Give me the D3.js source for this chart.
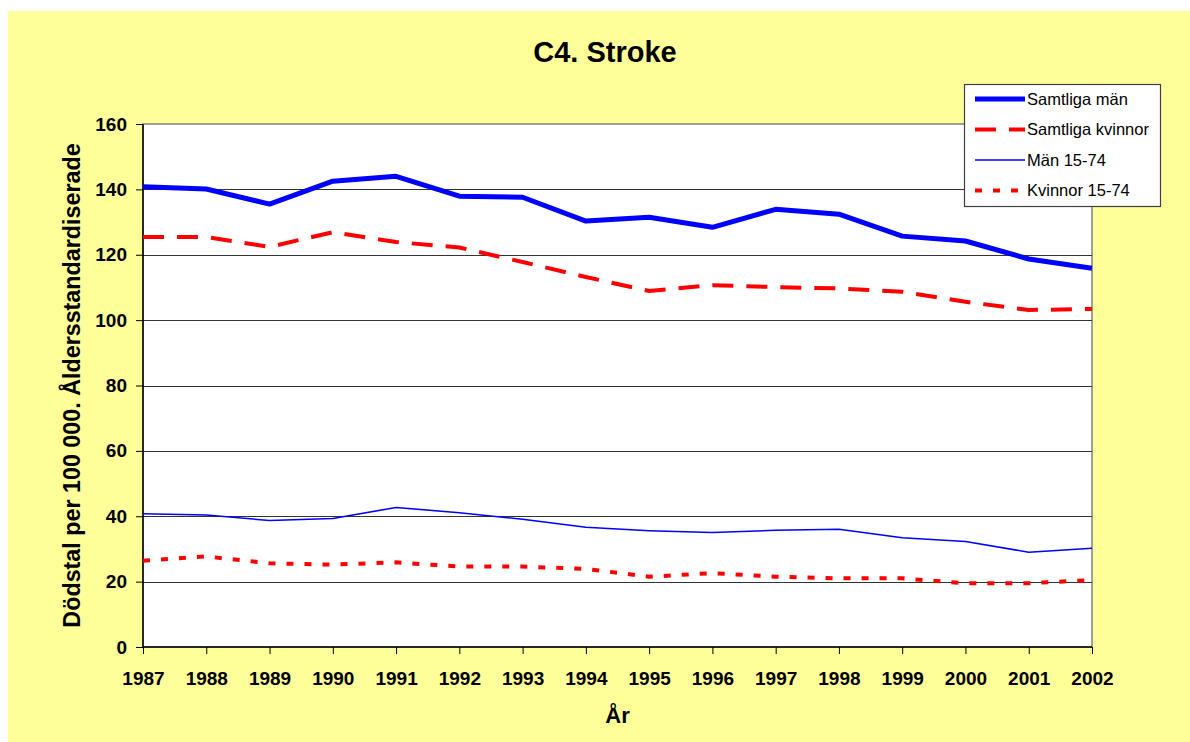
<!DOCTYPE html>
<html>
<head>
<meta charset="utf-8">
<script src="https://cdn.jsdelivr.net/npm/d3@7"></script>
<style>
	body { margin: 0; background: #fff; }
	text { font-family: "Liberation Sans", Arial, sans-serif; }
	.tick text { font-weight: bold; font-size: 19px; fill: #000; }
</style>
</head>
<body>
<svg></svg>
<script>
var years = [1987, 1988, 1989, 1990, 1991, 1992, 1993, 1994, 1995, 1996, 1997, 1998, 1999, 2000, 2001, 2002];
var samtligaMan = [140.8, 140.1, 135.5, 142.5, 144.0, 137.9, 137.6, 130.3, 131.5, 128.4, 133.9, 132.4, 125.7, 124.2, 118.7, 115.9];
var samtligaKvinnor = [125.4, 125.4, 122.4, 126.9, 123.9, 122.2, 117.8, 113.2, 108.9, 110.7, 110.1, 109.7, 108.7, 105.6, 103.1, 103.4];
var man1574 = [40.8, 40.4, 38.7, 39.3, 42.7, 41.1, 39.1, 36.6, 35.6, 35.0, 35.7, 36.0, 33.4, 32.3, 29.0, 30.2];
var kvinnor1574 = [26.4, 27.7, 25.6, 25.2, 25.9, 24.6, 24.6, 23.9, 21.5, 22.6, 21.5, 21.0, 21.0, 19.5, 19.5, 20.5];
var seriesNames = ["Samtliga män", "Samtliga kvinnor", "Män 15-74", "Kvinnor 15-74"];
var yTicks = [0, 20, 40, 60, 80, 100, 120, 140, 160];

var svgWidth = 1190, svgHeight = 742;
var plotLeft = 143, plotRight = 1092, plotTop = 124, plotBottom = 647;

var seriesStyle = [
	{ data: samtligaMan, color: "#0000ff", width: 5, dash: null },
	{ data: samtligaKvinnor, color: "#ff0000", width: 4, dash: "21,13" },
	{ data: man1574, color: "#0000ff", width: 1.5, dash: null },
	{ data: kvinnor1574, color: "#ff0000", width: 4, dash: "7,11" }
];

var svg = d3.select("svg")
			.attr("width", svgWidth)
			.attr("height", svgHeight);

var xScale = d3.scalePoint()
			.domain(years)
			.range([plotLeft, plotRight]);

var yScale = d3.scaleLinear()
			.domain([0, 160])
			.range([plotBottom, plotTop]);

setBackground(svg);
setGrid(svg);
setAxis(svg);
setLines(svg);
setLegend(svg);
setTitles(svg);

// This function draws the yellow chart area and the white plot area
function setBackground(svg) {
	svg.append("rect")
		.attr("x", 8)
		.attr("y", 11)
		.attr("width", svgWidth - 8)
		.attr("height", svgHeight - 11)
		.attr("fill", "#ffff99");

	svg.append("rect")
		.attr("x", plotLeft)
		.attr("y", plotTop)
		.attr("width", plotRight - plotLeft)
		.attr("height", plotBottom - plotTop)
		.attr("fill", "#fff")
		.attr("stroke", "#808080")
		.attr("stroke-width", 1.5);
}

// This function draws the horizontal gridlines
function setGrid(svg) {
	svg.append("g")
		.selectAll("line")
		.data(yTicks.filter(function(d) { return d > 0 && d < 160; }))
		.enter()
		.append("line")
		.attr("x1", plotLeft)
		.attr("x2", plotRight)
		.attr("y1", function(d) { return Math.round(yScale(d)) + 0.5; })
		.attr("y2", function(d) { return Math.round(yScale(d)) + 0.5; })
		.attr("stroke", "#333")
		.attr("stroke-width", 1);
}

// This function sets the coordinate axes
function setAxis(svg) {
	var y_axis = d3.axisLeft(yScale)
				.tickValues(yTicks)
				.tickSize(7)
				.tickPadding(9);

	var x_axis = d3.axisBottom(xScale)
				.tickSize(7)
				.tickPadding(18);

	var gy = svg.append("g")
		.attr("transform", "translate(" + plotLeft + ",0)")
		.call(y_axis);

	var gx = svg.append("g")
		.attr("transform", "translate(0," + plotBottom + ")")
		.call(x_axis);

	gy.attr("font-family", null).attr("font-size", null);
	gx.attr("font-family", null).attr("font-size", null);
	svg.selectAll(".domain").attr("stroke", "#000").attr("stroke-width", 1.5);
	svg.selectAll(".tick line").attr("stroke", "#000");
	gy.select(".domain").attr("d", "M0," + plotBottom + "V" + plotTop);
	gx.select(".domain").attr("d", "M" + plotLeft + ",0H" + plotRight);
}

// This function draws the four series
function setLines(svg) {
	var line = d3.line()
		.x(function(d, i) { return xScale(years[i]); })
		.y(function(d) { return yScale(d); });

	svg.append("g")
		.selectAll("path")
		.data(seriesStyle)
		.enter()
		.append("path")
		.attr("d", function(s) { return line(s.data); })
		.attr("fill", "none")
		.attr("stroke", function(s) { return s.color; })
		.attr("stroke-width", function(s) { return s.width; })
		.attr("stroke-dasharray", function(s) { return s.dash; })
		.attr("stroke-linejoin", "round");
}

// This function draws the legend box
function setLegend(svg) {
	var legend = svg.append("g")
		.attr("transform", "translate(964,84)");

	legend.append("rect")
		.attr("x", 0.5)
		.attr("y", 0.5)
		.attr("width", 196)
		.attr("height", 122)
		.attr("fill", "#fff")
		.attr("stroke", "#404040")
		.attr("stroke-width", 1.2);

	var rows = legend.selectAll("g.row")
		.data(seriesStyle)
		.enter()
		.append("g")
		.attr("class", "row")
		.attr("transform", function(d, i) {
			return "translate(0," + (15 + i * 30.5) + ")";
		});

	rows.append("line")
		.attr("x1", 11)
		.attr("x2", 61)
		.attr("stroke", function(s) { return s.color; })
		.attr("stroke-width", function(s) { return s.width; })
		.attr("stroke-dasharray", function(s) { return s.dash; });

	rows.append("text")
		.attr("x", 63)
		.attr("dy", "0.36em")
		.attr("font-size", "16.5px")
		.text(function(d, i) { return seriesNames[i]; });
}

// This function sets the chart title and axis titles
function setTitles(svg) {
	svg.append("text")
		.attr("x", 605)
		.attr("y", 62)
		.attr("text-anchor", "middle")
		.attr("font-size", "29px")
		.attr("font-weight", "bold")
		.text("C4. Stroke");

	svg.append("text")
		.attr("x", (plotLeft + plotRight) / 2)
		.attr("y", 723)
		.attr("text-anchor", "middle")
		.attr("font-size", "22px")
		.attr("font-weight", "bold")
		.text("År");

	svg.append("text")
		.attr("transform", "translate(80," + (plotTop + plotBottom) / 2 + ") rotate(-90)")
		.attr("text-anchor", "middle")
		.attr("font-size", "23.3px")
		.attr("font-weight", "bold")
		.text("Dödstal per 100 000. Åldersstandardiserade");
}
</script>
</body>
</html>
